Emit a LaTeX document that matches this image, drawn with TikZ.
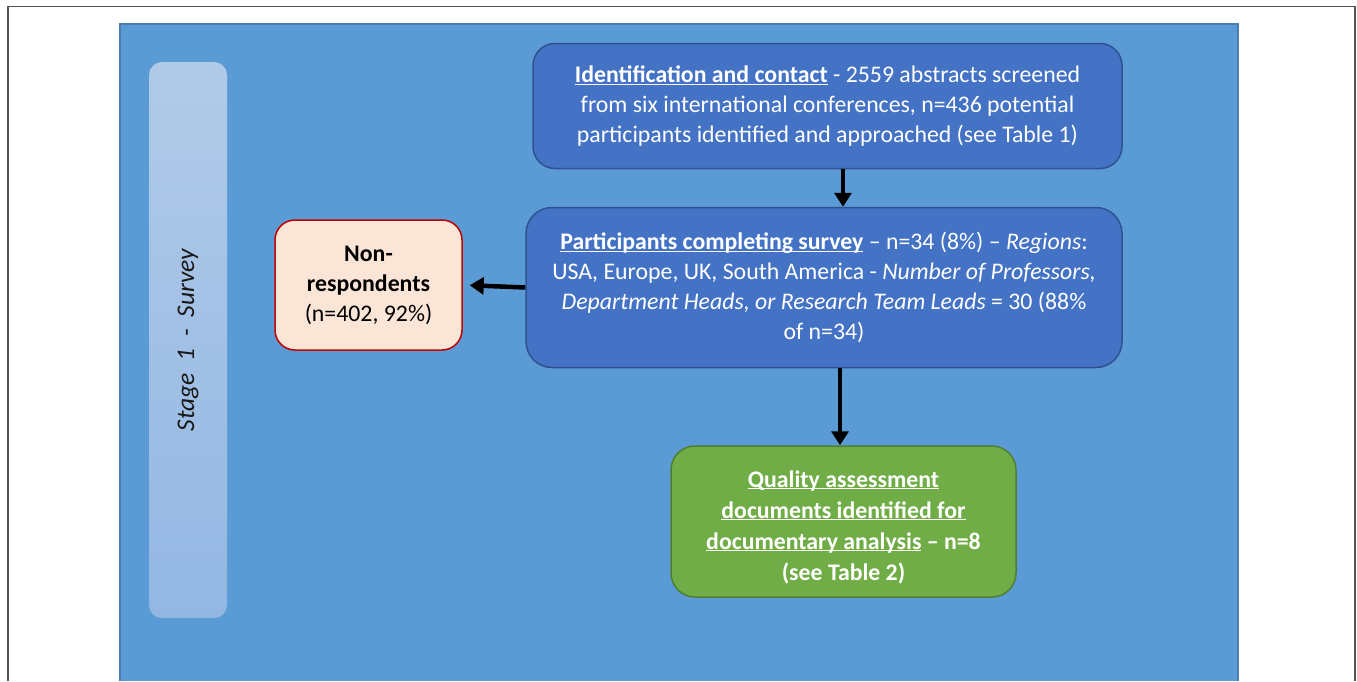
\documentclass[tikz,border=0pt]{standalone}
\usepackage{fontspec}
\setmainfont{Carlito}
\usetikzlibrary{arrows.meta,calc}
\definecolor{panelfill}{HTML}{5B9BD5}
\definecolor{panelline}{HTML}{4A7DB0}
\definecolor{stagetop}{HTML}{B1CAE8}
\definecolor{stagebot}{HTML}{93B7E3}
\definecolor{bluefill}{HTML}{4472C4}
\definecolor{blueline}{HTML}{2F528F}
\definecolor{redfill}{HTML}{FBE5D6}
\definecolor{redline}{HTML}{C00000}
\definecolor{greenfill}{HTML}{70AD47}
\definecolor{greenline}{HTML}{507E32}
\definecolor{framegray}{HTML}{555555}
\newcommand{\ulx}[1]{\underline{\smash{#1}}}
\tikzset{
  boxtext/.style={font=\fontsize{23.8}{30}\selectfont, align=center, inner sep=0pt},
  bluebox/.style={boxtext, draw=blueline, fill=bluefill, line width=1.5pt, text=white, rounded corners=22pt},
  redbox/.style={boxtext, draw=redline, fill=redfill, line width=1.5pt, text=black, rounded corners=20pt},
  greenbox/.style={draw=greenline, fill=greenfill, line width=1.5pt, rounded corners=24pt, inner sep=0pt},
  greentext/.style={boxtext, text=white, font=\fontsize{23.8}{31}\selectfont\bfseries},
  stagebar/.style={top color=stagetop, bottom color=stagebot, draw=none, rounded corners=13pt, inner sep=0pt},
  arr/.style={line width=4.5pt, -{Triangle[length=14pt,width=17pt]}}
}
\begin{document}
\begin{tikzpicture}[x=1pt,y=-1pt]
\useasboundingbox (0,0) rectangle (1357,681);
\fill[white] (0,0) rectangle (1357,681);
% outer frame
\draw[framegray, line width=1.6pt] (8,681) -- (8,6.5) -- (1355,6.5) -- (1355,681);
% panel
\fill[panelfill] (120,24) rectangle (1238,681);
\draw[panelline, line width=1.6pt] (120,681) -- (120,24) -- (1238,24) -- (1238,681);
% stage bar
\node[stagebar, minimum width=78pt, minimum height=556pt] (stage) at (188,340) {};
\node[rotate=90, font=\fontsize{25.5}{30}\selectfont\itshape, text=black!90] (stagelbl) at (stage.center)
  {Stage\hspace{6pt} 1\hspace{6pt} -\hspace{6pt} Survey};
% boxes
\node[bluebox, minimum width=589pt, minimum height=125pt] (b1) at (827.5,106)
  {\textbf{\ulx{Identification and contact}} - 2559 abstracts screened\\
   from six international conferences, n=436 potential\\
   participants identified and approached (see Table 1)};
\node[bluebox, rounded corners=26pt, minimum width=596pt, minimum height=160pt] (b2) at (824,287.5)
  {\textbf{\ulx{Participants completing survey}} -- n=34 (8\%) -- \textit{Regions}:\\
   USA, Europe, UK, South America - \textit{Number of Professors,}\\
   \textit{Department Heads, or Research Team Leads} = 30 (88\%\\
   of n=34)};
\node[redbox, minimum width=187pt, minimum height=130pt] (nr) at (368.5,285)
  {\textbf{Non-}\\ \textbf{respondents}\\ (n=402, 92\%)};
\node[greenbox, minimum width=345pt, minimum height=151pt] (g) at (843.5,521.5) {};
\node[greentext] (gt) at ($(g.center)+(0,14)$)
  {\ulx{Quality assessment}\\
   \ulx{documents identified for}\\
   \ulx{documentary analysis} -- n=8\\
   (see Table 2)};
% arrows
\coordinate (ax1) at (843,0);
\coordinate (ax3) at (840,0);
\draw[arr] (b1.south -| ax1) -- (b2.north -| ax1);
\draw[arr, shorten >=7pt] (b2.west) -- (nr.east);
\draw[arr] (b2.south -| ax3) -- (g.north -| ax3);
\end{tikzpicture}
\end{document}
